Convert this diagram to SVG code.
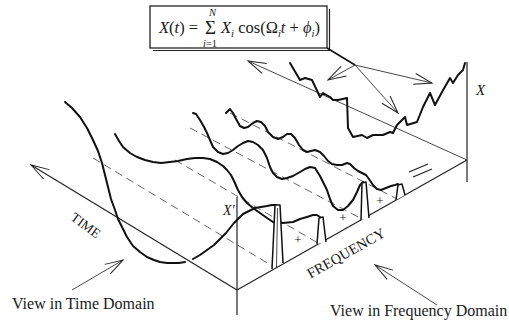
<svg xmlns="http://www.w3.org/2000/svg" width="509" height="322" viewBox="0 0 509 322">
<style>
.t{font-family:"Liberation Serif","DejaVu Serif",serif;fill:#1a1a1a}
.ax{fill:none;stroke:#222;stroke-width:1.2}
.thin{fill:none;stroke:#333;stroke-width:0.9}
.wave{fill:none;stroke:#111;stroke-width:2;stroke-linejoin:round;stroke-linecap:round}
.dash{fill:none;stroke:#555;stroke-width:0.9;stroke-dasharray:8 5}
.spk{fill:#fff;stroke:#111;stroke-width:1.5;stroke-linejoin:round}
</style>
<defs>
<marker id="ah" viewBox="-20 -8 22 16" markerWidth="22" markerHeight="16" refX="0" refY="0" orient="auto" markerUnits="userSpaceOnUse">
<path d="M-18,-5.5 L0,0 L-18,5.5" fill="none" stroke="#222" stroke-width="1"/>
</marker>
</defs>
<rect width="509" height="322" fill="#fff"/>

<g id="formula">
<rect x="150" y="6" width="177" height="42" fill="#fff" stroke="#111" stroke-width="1.2"/>
<path d="M153,50.5 L329.5,50.5 L329.5,9" class="ax"/>
<text class="t" x="159" y="33" font-size="16.5"><tspan font-style="italic">X</tspan>(<tspan font-style="italic">t</tspan>) =</text>
<text class="t" x="205" y="34" font-size="19">Σ</text>
<text class="t" x="209" y="16" font-size="10.5" font-style="italic">N</text>
<text class="t" x="203" y="47" font-size="10.5"><tspan font-style="italic">i</tspan>=1</text>
<text class="t" x="221" y="33" font-size="16.5"><tspan font-style="italic">X</tspan><tspan font-size="10.5" font-style="italic" dy="4">i</tspan><tspan dy="-4"> cos(Ω</tspan><tspan font-size="10.5" font-style="italic" dy="4">i</tspan><tspan dy="-4" font-style="italic">t</tspan> + <tspan font-style="italic">ϕ</tspan><tspan font-size="10.5" font-style="italic" dy="4">i</tspan><tspan dy="-4">)</tspan></text>
</g>

<g id="axes">
<path id="time-axis" d="M237,290 L31,165" class="ax" marker-end="url(#ah)"/>
<path id="freq-axis" d="M237,290 L467,160" class="ax"/>
<path id="back-edge" d="M467,160 L248,61" class="thin" marker-end="url(#ah)"/>
<path id="x-axis-front" d="M237,197 L237,315" class="ax"/>
<path id="x-axis-back" d="M467,62 L467,182" class="ax"/>
<path d="M409,172 L428,164 M413,177 L432,169" class="ax"/>
</g>

<g id="centerlines">
<path d="M93,158 L274,267" class="dash"/>
<path d="M175,160 L318,243" class="dash"/>
<path d="M190,128 L362,219" class="dash"/>
<path d="M230,113 L397,199" class="dash"/>
</g>

<g id="waves">
<path id="wave-a1" class="wave" d="M65,102 L72,108 L80,117 L87,128 L93,140 L98,151 L102,163 L105,175 L108,187 L111,199 L115,210 L118,219 L122,227 L127,237 L133,246 L140,252 L147,257 L154,260 L160,262 L167,263 L173,263 L179,263 L185,262"/>
<path id="wave-a2" class="wave" d="M193,259 L200,255 L207,250 L214,245 L220,239 L226,233 L230,228 L234,223 L238,219 L243,214 L249,211 L255,208 L261,207 L267,206 L272,205 L276,205"/>
<path id="wave-b" class="wave" d="M115,134 L119,141 L123,147 L130,153 L137,157 L145,160 L153,162 L161,163 L170,162 L178,161 L187,159 L195,158 L203,158 L210,159 L217,162 L223,166 L227,170 L231,175 L234,181 L238,190 L242,197 L247,203 L253,208 L260,213 L267,218 L273,222 L283,223 L293,222 L300,219 L307,217 L313,215 L317,215 L320,217"/>
<path id="wave-c" class="wave" d="M193,113 L196,114 L200,120 L204,127 L207,133 L210,140 L213,147 L218,152 L223,154 L228,153 L233,150 L238,146 L243,143 L248,141 L253,142 L258,145 L263,150 L267,158 L270,167 L273,173 L277,177 L282,179 L287,178 L293,176 L300,172 L305,169 L310,167 L315,168 L320,176 L324,184 L327,190 L330,199 L333,206 L338,210 L343,210 L348,206 L353,200 L357,192 L360,185 L363,182"/>
<path id="wave-d" class="wave" d="M226,113 L230,109 L233,113 L236,119 L240,126 L244,128 L248,127 L253,123 L257,121 L261,122 L265,126 L268,132 L273,137 L278,139 L283,137 L287,134 L291,134 L295,138 L299,145 L303,150 L307,152 L311,151 L315,150 L320,152 L324,156 L328,161 L332,164 L337,165 L342,165 L347,163 L350,164 L354,168 L358,171 L362,173 L366,175 L369,179 L373,185 L377,189 L381,190 L386,188 L391,186 L395,185 L398,184"/>
</g>

<g id="spectrum">
<path id="spike-1" class="spk" d="M272,269 L275,205 L280,205 L283,263"/>
<path d="M276.5,267 L277.5,208" class="thin"/>
<path id="spike-2" class="spk" d="M317,244 L319,218 L323,217 L326,242"/>
<path id="spike-3" class="spk" d="M361,220 L362,183 L366,182 L369,218"/>
<path id="spike-4" class="spk" d="M396,200 L398,185 L402,184 L405,195"/>
<text class="t" x="298" y="244" font-size="13" text-anchor="middle">+</text>
<text class="t" x="343" y="222" font-size="13" text-anchor="middle">+</text>
<text class="t" x="380" y="205" font-size="13" text-anchor="middle">+</text>
</g>

<g id="signal">
<path class="wave" stroke-width="1.8" d="M290,63 L300,80 L305,78 L312,80 L320,97 L323,93 L330,97 L333,100 L338,100 L347,98 L348,128 L353,137 L362,135 L367,138 L373,135 L383,135 L390,132 L393,133 L397,125 L402,120 L405,117 L407,125 L417,122 L423,107 L430,93 L435,105 L442,92 L450,78 L453,83 L458,75 L463,70 L465,63"/>
</g>

<g id="connectors">
<path d="M327,48 L355,65" fill="none" stroke="#111" stroke-width="1.6"/>
<path d="M355,65 L328,80" class="thin" marker-end="url(#ah)"/>
<path d="M355,65 L432,83" class="thin" marker-end="url(#ah)"/>
<path d="M355,65 L398,113" class="thin" marker-end="url(#ah)"/>
<path d="M72,290 L123,260" class="thin" marker-end="url(#ah)"/>
<path d="M437,305 L375,265" class="thin" marker-end="url(#ah)"/>
</g>

<g id="labels">
<text class="t" x="476" y="95" font-size="15" font-style="italic">X</text>
<text class="t" x="223" y="215" font-size="14" font-style="italic">X'</text>
<text class="t" font-size="13.5" text-anchor="middle" transform="translate(86,225) rotate(36)" y="5">TIME</text>
<text class="t" font-size="14.5" text-anchor="middle" transform="translate(346,253) rotate(-29.5)" y="5">FREQUENCY</text>
<text class="t" x="12" y="309" font-size="16">View in Time Domain</text>
<text class="t" x="330" y="316" font-size="16">View in Frequency Domain</text>
</g>
</svg>
